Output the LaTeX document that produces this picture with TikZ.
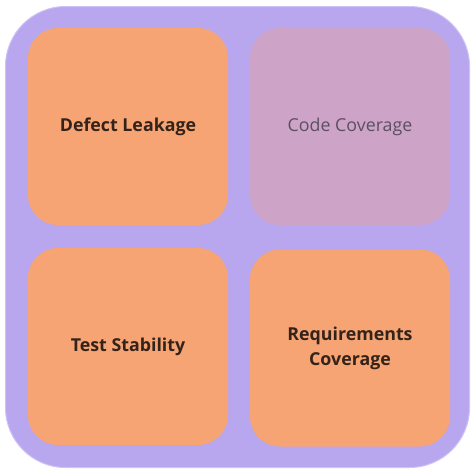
\documentclass[tikz,border=0pt]{standalone}
\usepackage{fontspec}
\setmainfont{Open Sans}
\definecolor{outerpurple}{HTML}{B8A6EF}
\definecolor{outerrim}{HTML}{CFC3F4}
\definecolor{cardorange}{HTML}{F7A474}
\definecolor{cardmauve}{HTML}{CDA4C8}
\definecolor{labeldark}{HTML}{33231A}
\definecolor{labelgray}{HTML}{5C5060}
\begin{document}
\begin{tikzpicture}[x=1pt,y=-1pt,
  card/.style={rounded corners=30pt, minimum width=200pt, minimum height=197pt, inner sep=0pt, align=center, font=\fontsize{17.8}{25}\selectfont},
  hot/.style={card, fill=cardorange, text=labeldark, font=\fontsize{17.8}{25}\selectfont\bfseries},
  cool/.style={card, fill=cardmauve, text=labelgray}]
\useasboundingbox (0,0) rectangle (474,469);
\fill[white] (0,0) rectangle (474,469);
\node[draw=outerrim, line width=1pt, fill=outerpurple, rounded corners=60pt, minimum width=464pt, minimum height=461pt, inner sep=0pt] (frame) at (237.5,237) {};
\node[hot]  (defect) at (128,126.5) {\raisebox{-3pt}{Defect Leakage}};
\node[cool] (code)   at (350,126.5) {\raisebox{-3pt}{Code Coverage}};
\node[hot]  (stab)   at (128,346.5) {\raisebox{-2pt}{Test Stability}};
\node[hot]  (req)    at (350,348) {Requirements\\Coverage};
\end{tikzpicture}
\end{document}
